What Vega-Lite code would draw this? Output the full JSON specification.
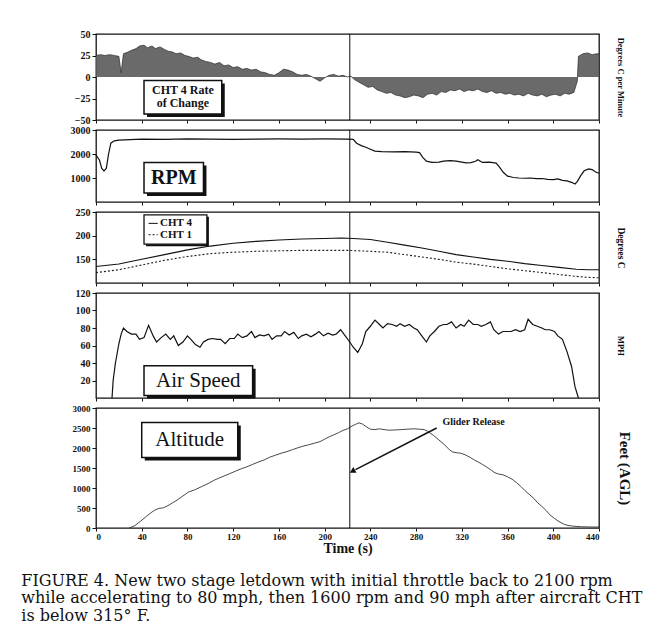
{
  "$schema": "https://vega.github.io/schema/vega-lite/v6.json",
  "background": "white",
  "padding": {"left": 21, "top": 28, "right": 0, "bottom": 0},
  "spacing": 10,
  "bounds": "flush",
  "config": {
    "view": {"stroke": "#111", "strokeWidth": 1.3},
    "font": "Liberation Serif",
    "axis": {"grid": false, "domain": false, "labelFont": "Liberation Serif", "labelFontWeight": "bold", "labelFontSize": 10, "labelColor": "#111", "tickColor": "#111", "tickSize": 4, "titleFont": "Liberation Serif", "titleColor": "#111", "titleFontWeight": "bold"},
    "axisLeft": {"minExtent": 30, "maxExtent": 30, "labelPadding": 2}
  },
  "title": {
    "text": ["FIGURE 4. New two stage letdown with initial throttle back to 2100 rpm", "while accelerating to 80 mph, then 1600 rpm and 90 mph after aircraft CHT", "is below 315° F."],
    "orient": "bottom", "anchor": "start", "frame": "bounds", "dx": -44, "offset": 17,
    "font": "DejaVu Serif", "fontSize": 16, "fontWeight": "normal", "lineHeight": 17.5, "color": "#111"
  },
  "datasets": {
    "rate": [
      {"t":0,"v":25},{"t":4,"v":26},{"t":8,"v":25},{"t":12,"v":26},{"t":16,"v":25},{"t":20,"v":24},{"t":22,"v":5},{"t":24,"v":27},{"t":28,"v":29},{"t":31,"v":31},{"t":35,"v":33},{"t":38,"v":36},{"t":42,"v":37},{"t":45,"v":34},{"t":49,"v":36},{"t":52,"v":33},{"t":56,"v":35},{"t":60,"v":32},{"t":63,"v":30},{"t":67,"v":29},{"t":70,"v":27},{"t":74,"v":28},{"t":78,"v":25},{"t":81,"v":24},{"t":85,"v":22},{"t":89,"v":23},{"t":92,"v":20},{"t":96,"v":18},{"t":100,"v":17},{"t":104,"v":15},{"t":108,"v":17},{"t":112,"v":13},{"t":116,"v":14},{"t":120,"v":11},{"t":124,"v":12},{"t":128,"v":9},{"t":132,"v":10},{"t":136,"v":8},{"t":140,"v":9},{"t":144,"v":6},{"t":148,"v":5},{"t":152,"v":3},{"t":156,"v":2},{"t":160,"v":5},{"t":164,"v":9},{"t":168,"v":8},{"t":172,"v":6},{"t":176,"v":3},{"t":180,"v":2},{"t":184,"v":3},{"t":188,"v":1},{"t":192,"v":-2},{"t":196,"v":-5},{"t":200,"v":-1},{"t":204,"v":2},{"t":208,"v":3},{"t":212,"v":1},{"t":216,"v":2},{"t":220,"v":0},{"t":223,"v":1},{"t":226,"v":-3},{"t":230,"v":-6},{"t":234,"v":-9},{"t":238,"v":-12},{"t":242,"v":-11},{"t":246,"v":-15},{"t":250,"v":-17},{"t":254,"v":-19},{"t":258,"v":-18},{"t":262,"v":-21},{"t":266,"v":-22},{"t":270,"v":-24},{"t":274,"v":-23},{"t":278,"v":-21},{"t":282,"v":-22},{"t":286,"v":-24},{"t":290,"v":-20},{"t":294,"v":-19},{"t":298,"v":-21},{"t":302,"v":-17},{"t":306,"v":-18},{"t":310,"v":-15},{"t":314,"v":-16},{"t":318,"v":-14},{"t":322,"v":-17},{"t":326,"v":-15},{"t":330,"v":-16},{"t":334,"v":-14},{"t":338,"v":-17},{"t":342,"v":-18},{"t":346,"v":-16},{"t":350,"v":-19},{"t":354,"v":-18},{"t":358,"v":-20},{"t":362,"v":-19},{"t":366,"v":-21},{"t":370,"v":-20},{"t":374,"v":-22},{"t":378,"v":-19},{"t":382,"v":-21},{"t":386,"v":-22},{"t":390,"v":-20},{"t":394,"v":-23},{"t":398,"v":-21},{"t":402,"v":-20},{"t":406,"v":-22},{"t":410,"v":-19},{"t":414,"v":-20},{"t":418,"v":-18},{"t":421,"v":-5},{"t":422,"v":24},{"t":426,"v":27},{"t":430,"v":28},{"t":434,"v":26},{"t":438,"v":27},{"t":440,"v":27}
    ],
    "rpm": [
      {"t":0,"v":1950},{"t":3,"v":1750},{"t":5,"v":1400},{"t":7,"v":1300},{"t":9,"v":1400},{"t":11,"v":2000},{"t":13,"v":2450},{"t":16,"v":2550},{"t":20,"v":2580},{"t":30,"v":2600},{"t":40,"v":2620},{"t":60,"v":2610},{"t":80,"v":2630},{"t":100,"v":2620},{"t":120,"v":2610},{"t":140,"v":2620},{"t":160,"v":2630},{"t":180,"v":2620},{"t":200,"v":2630},{"t":220,"v":2620},{"t":225,"v":2610},{"t":228,"v":2450},{"t":232,"v":2350},{"t":236,"v":2280},{"t":240,"v":2200},{"t":244,"v":2120},{"t":250,"v":2100},{"t":260,"v":2090},{"t":270,"v":2100},{"t":280,"v":2080},{"t":283,"v":2060},{"t":286,"v":1850},{"t":289,"v":1700},{"t":294,"v":1650},{"t":300,"v":1660},{"t":304,"v":1700},{"t":310,"v":1720},{"t":315,"v":1700},{"t":320,"v":1660},{"t":324,"v":1630},{"t":328,"v":1640},{"t":332,"v":1700},{"t":334,"v":1760},{"t":338,"v":1650},{"t":344,"v":1660},{"t":350,"v":1620},{"t":353,"v":1450},{"t":356,"v":1250},{"t":360,"v":1080},{"t":365,"v":1020},{"t":370,"v":1000},{"t":375,"v":990},{"t":380,"v":1000},{"t":385,"v":970},{"t":390,"v":980},{"t":395,"v":940},{"t":400,"v":930},{"t":404,"v":960},{"t":408,"v":900},{"t":412,"v":880},{"t":416,"v":820},{"t":419,"v":750},{"t":421,"v":850},{"t":424,"v":1100},{"t":427,"v":1300},{"t":431,"v":1380},{"t":434,"v":1350},{"t":437,"v":1250},{"t":440,"v":1200}
    ],
    "cht4": [
      {"t":0,"v":135},{"t":20,"v":140},{"t":40,"v":150},{"t":60,"v":160},{"t":80,"v":170},{"t":100,"v":178},{"t":120,"v":184},{"t":140,"v":188},{"t":160,"v":191},{"t":180,"v":193},{"t":200,"v":194},{"t":215,"v":195},{"t":225,"v":194},{"t":240,"v":192},{"t":255,"v":186},{"t":270,"v":180},{"t":285,"v":174},{"t":300,"v":167},{"t":315,"v":160},{"t":330,"v":155},{"t":345,"v":150},{"t":360,"v":146},{"t":375,"v":141},{"t":390,"v":137},{"t":405,"v":133},{"t":420,"v":129},{"t":430,"v":128},{"t":440,"v":128}
    ],
    "cht1": [
      {"t":0,"v":122},{"t":20,"v":128},{"t":40,"v":138},{"t":60,"v":148},{"t":80,"v":156},{"t":100,"v":162},{"t":120,"v":165},{"t":140,"v":167},{"t":160,"v":168},{"t":180,"v":169},{"t":200,"v":169},{"t":220,"v":169},{"t":240,"v":167},{"t":255,"v":165},{"t":270,"v":160},{"t":285,"v":155},{"t":300,"v":150},{"t":315,"v":144},{"t":330,"v":140},{"t":345,"v":135},{"t":360,"v":130},{"t":375,"v":126},{"t":390,"v":122},{"t":405,"v":118},{"t":420,"v":114},{"t":430,"v":112},{"t":440,"v":111}
    ],
    "mph": [
      {"t":14,"v":0},{"t":15,"v":20},{"t":17,"v":40},{"t":20,"v":62},{"t":22,"v":73},{"t":24,"v":80},{"t":27,"v":76},{"t":31,"v":73},{"t":35,"v":73},{"t":38,"v":67},{"t":42,"v":69},{"t":46,"v":83},{"t":50,"v":71},{"t":53,"v":64},{"t":57,"v":69},{"t":61,"v":73},{"t":65,"v":67},{"t":68,"v":71},{"t":72,"v":60},{"t":76,"v":64},{"t":80,"v":71},{"t":83,"v":67},{"t":87,"v":61},{"t":91,"v":58},{"t":94,"v":64},{"t":98,"v":67},{"t":102,"v":68},{"t":106,"v":67},{"t":109,"v":67},{"t":113,"v":62},{"t":117,"v":68},{"t":121,"v":68},{"t":124,"v":73},{"t":128,"v":69},{"t":132,"v":71},{"t":136,"v":76},{"t":139,"v":69},{"t":143,"v":72},{"t":147,"v":71},{"t":151,"v":73},{"t":154,"v":67},{"t":158,"v":71},{"t":162,"v":71},{"t":165,"v":76},{"t":169,"v":72},{"t":173,"v":75},{"t":177,"v":68},{"t":180,"v":71},{"t":184,"v":73},{"t":188,"v":70},{"t":192,"v":73},{"t":195,"v":76},{"t":199,"v":71},{"t":203,"v":74},{"t":207,"v":72},{"t":210,"v":73},{"t":214,"v":78},{"t":218,"v":71},{"t":222,"v":64},{"t":225,"v":58},{"t":229,"v":52},{"t":233,"v":62},{"t":236,"v":76},{"t":240,"v":82},{"t":244,"v":89},{"t":248,"v":84},{"t":251,"v":80},{"t":255,"v":85},{"t":259,"v":84},{"t":263,"v":82},{"t":266,"v":85},{"t":270,"v":82},{"t":274,"v":84},{"t":278,"v":80},{"t":281,"v":78},{"t":285,"v":71},{"t":289,"v":64},{"t":292,"v":71},{"t":296,"v":76},{"t":300,"v":82},{"t":304,"v":84},{"t":307,"v":84},{"t":311,"v":87},{"t":315,"v":80},{"t":319,"v":84},{"t":322,"v":82},{"t":326,"v":89},{"t":330,"v":84},{"t":334,"v":84},{"t":337,"v":82},{"t":341,"v":84},{"t":345,"v":87},{"t":348,"v":78},{"t":352,"v":73},{"t":356,"v":76},{"t":360,"v":76},{"t":363,"v":76},{"t":367,"v":78},{"t":371,"v":76},{"t":375,"v":78},{"t":378,"v":90},{"t":382,"v":84},{"t":386,"v":82},{"t":390,"v":80},{"t":393,"v":78},{"t":397,"v":78},{"t":401,"v":76},{"t":404,"v":71},{"t":408,"v":67},{"t":412,"v":53},{"t":416,"v":36},{"t":419,"v":13},{"t":422,"v":0}
    ],
    "alt": [
      {"t":29,"v":0},{"t":34,"v":60},{"t":39,"v":170},{"t":44,"v":290},{"t":48,"v":380},{"t":51,"v":440},{"t":55,"v":490},{"t":59,"v":505},{"t":63,"v":560},{"t":67,"v":630},{"t":70,"v":680},{"t":75,"v":780},{"t":81,"v":900},{"t":86,"v":950},{"t":92,"v":1030},{"t":98,"v":1110},{"t":103,"v":1190},{"t":107,"v":1240},{"t":112,"v":1300},{"t":117,"v":1360},{"t":122,"v":1420},{"t":127,"v":1480},{"t":132,"v":1530},{"t":137,"v":1590},{"t":142,"v":1650},{"t":147,"v":1700},{"t":152,"v":1770},{"t":157,"v":1820},{"t":162,"v":1870},{"t":167,"v":1910},{"t":172,"v":1960},{"t":176,"v":2000},{"t":181,"v":2045},{"t":186,"v":2080},{"t":191,"v":2120},{"t":196,"v":2160},{"t":200,"v":2220},{"t":204,"v":2280},{"t":208,"v":2330},{"t":212,"v":2380},{"t":216,"v":2440},{"t":220,"v":2480},{"t":224,"v":2550},{"t":227,"v":2590},{"t":230,"v":2630},{"t":233,"v":2600},{"t":236,"v":2540},{"t":240,"v":2470},{"t":244,"v":2460},{"t":248,"v":2480},{"t":252,"v":2460},{"t":256,"v":2445},{"t":261,"v":2450},{"t":267,"v":2460},{"t":272,"v":2470},{"t":278,"v":2480},{"t":283,"v":2470},{"t":287,"v":2460},{"t":290,"v":2420},{"t":295,"v":2320},{"t":300,"v":2200},{"t":305,"v":2080},{"t":309,"v":1960},{"t":312,"v":1900},{"t":316,"v":1880},{"t":319,"v":1870},{"t":323,"v":1830},{"t":327,"v":1770},{"t":331,"v":1700},{"t":335,"v":1640},{"t":338,"v":1590},{"t":342,"v":1520},{"t":346,"v":1440},{"t":349,"v":1380},{"t":352,"v":1350},{"t":356,"v":1330},{"t":360,"v":1280},{"t":364,"v":1220},{"t":368,"v":1130},{"t":372,"v":1030},{"t":375,"v":940},{"t":379,"v":840},{"t":383,"v":740},{"t":386,"v":640},{"t":390,"v":540},{"t":394,"v":430},{"t":397,"v":330},{"t":401,"v":240},{"t":405,"v":160},{"t":409,"v":100},{"t":412,"v":70},{"t":416,"v":50},{"t":420,"v":40},{"t":425,"v":30},{"t":430,"v":28},{"t":434,"v":25},{"t":440,"v":25}
    ],
    "release": [{"t":222}]
  },
  "vconcat": [
    {
      "width": 503, "height": 86,
      "layer": [
        {"data": {"name": "rate"}, "mark": {"type": "area", "color": "#5a5a5a", "opacity": 0.9, "line": {"color": "#2a2a2a", "strokeWidth": 0.7}},
         "encoding": {
           "x": {"field": "t", "type": "quantitative", "scale": {"domain": [0, 440], "nice": false}, "axis": {"labels": false, "title": null, "values": [0,40,80,120,160,200,240,280,320,360,400,440], "tickSize": 3}},
           "y": {"field": "v", "type": "quantitative", "scale": {"domain": [-50, 50], "nice": false}, "axis": {"values": [-50,-25,0,25,50], "title": null}}}},
        {"data": {"name": "rate"}, "mark": {"type": "point", "opacity": 0},
         "encoding": {"x": {"field": "t", "type": "quantitative"}, "y": {"field": "v", "type": "quantitative", "axis": {"orient": "right", "labels": false, "ticks": false, "title": "Degrees C per Minute", "titleFont": "Liberation Serif", "titleFontSize": 8.5, "titlePadding": 16}}}},
        {"data": {"name": "release"}, "mark": {"type": "rule", "color": "#111", "strokeWidth": 1}, "encoding": {"x": {"field": "t", "type": "quantitative"}}},
        {"data": {"values": [{"x1": 42, "x2": 110, "y1": -4, "y2": -43}]}, "mark": {"type": "rect", "color": "#111", "xOffset": 3, "yOffset": 3, "x2Offset": 3, "y2Offset": 3},
         "encoding": {"x": {"field": "x1", "type": "quantitative"}, "x2": {"field": "x2"}, "y": {"field": "y1", "type": "quantitative", "axis": null}, "y2": {"field": "y2"}}},
        {"data": {"values": [{"x1": 42, "x2": 110, "y1": -4, "y2": -43}]}, "mark": {"type": "rect", "fill": "white", "stroke": "#111", "strokeWidth": 1.5},
         "encoding": {"x": {"field": "x1", "type": "quantitative"}, "x2": {"field": "x2"}, "y": {"field": "y1", "type": "quantitative", "axis": null}, "y2": {"field": "y2"}}},
        {"data": {"values": [{"x": 76, "y": -15, "label": "CHT 4 Rate\nof Change"}]}, "mark": {"type": "text", "font": "Liberation Serif", "fontWeight": "bold", "fontSize": 12, "lineBreak": "\n", "lineHeight": 13, "color": "#111"},
         "encoding": {"x": {"field": "x", "type": "quantitative"}, "y": {"field": "y", "type": "quantitative", "axis": null}, "text": {"field": "label"}}}
      ],
      "resolve": {"axis": {"y": "independent"}}
    },
    {
      "width": 503, "height": 72,
      "layer": [
        {"data": {"name": "rpm"}, "mark": {"type": "line", "color": "#111", "strokeWidth": 1.2},
         "encoding": {
           "x": {"field": "t", "type": "quantitative", "scale": {"domain": [0, 440], "nice": false}, "axis": {"labels": false, "title": null, "values": [0,40,80,120,160,200,240,280,320,360,400,440], "tickSize": 3}},
           "y": {"field": "v", "type": "quantitative", "scale": {"domain": [0, 3000], "nice": false}, "axis": {"values": [1000,2000,3000], "title": null, "format": "d"}}}},
        {"data": {"name": "release"}, "mark": {"type": "rule", "color": "#111", "strokeWidth": 1}, "encoding": {"x": {"field": "t", "type": "quantitative"}}},
        {"data": {"values": [{"x1": 42, "x2": 94, "y1": 1650, "y2": 380}]}, "mark": {"type": "rect", "color": "#111", "xOffset": 3, "yOffset": 3, "x2Offset": 3, "y2Offset": 3},
         "encoding": {"x": {"field": "x1", "type": "quantitative"}, "x2": {"field": "x2"}, "y": {"field": "y1", "type": "quantitative", "axis": null}, "y2": {"field": "y2"}}},
        {"data": {"values": [{"x1": 42, "x2": 94, "y1": 1650, "y2": 380}]}, "mark": {"type": "rect", "fill": "white", "stroke": "#111", "strokeWidth": 1.5},
         "encoding": {"x": {"field": "x1", "type": "quantitative"}, "x2": {"field": "x2"}, "y": {"field": "y1", "type": "quantitative", "axis": null}, "y2": {"field": "y2"}}},
        {"data": {"values": [{"x": 68, "y": 1000, "label": "RPM"}]}, "mark": {"type": "text", "font": "Liberation Serif", "fontWeight": "bold", "fontSize": 20, "color": "#111"},
         "encoding": {"x": {"field": "x", "type": "quantitative"}, "y": {"field": "y", "type": "quantitative", "axis": null}, "text": {"field": "label"}}}
      ],
      "resolve": {"axis": {"y": "independent"}}
    },
    {
      "width": 503, "height": 71,
      "layer": [
        {"data": {"name": "cht4"}, "mark": {"type": "line", "color": "#111", "strokeWidth": 1.1},
         "encoding": {
           "x": {"field": "t", "type": "quantitative", "scale": {"domain": [0, 440], "nice": false}, "axis": {"labels": false, "title": null, "values": [0,40,80,120,160,200,240,280,320,360,400,440], "tickSize": 3}},
           "y": {"field": "v", "type": "quantitative", "scale": {"domain": [100, 250], "nice": false}, "axis": {"values": [150,200,250], "title": null}}}},
        {"data": {"name": "cht1"}, "mark": {"type": "line", "color": "#222", "strokeWidth": 1.1, "strokeDash": [2, 2]},
         "encoding": {"x": {"field": "t", "type": "quantitative"}, "y": {"field": "v", "type": "quantitative", "axis": {"orient": "right", "labels": false, "ticks": false, "title": "Degrees C", "titleFont": "Liberation Serif", "titleFontSize": 9.5, "titlePadding": 16}}}},
        {"data": {"name": "release"}, "mark": {"type": "rule", "color": "#111", "strokeWidth": 1}, "encoding": {"x": {"field": "t", "type": "quantitative"}}},
        {"data": {"values": [{"x1": 42, "x2": 97, "y1": 244, "y2": 182}]}, "mark": {"type": "rect", "color": "#111", "xOffset": 2, "yOffset": 2, "x2Offset": 2, "y2Offset": 2},
         "encoding": {"x": {"field": "x1", "type": "quantitative"}, "x2": {"field": "x2"}, "y": {"field": "y1", "type": "quantitative", "axis": null}, "y2": {"field": "y2"}}},
        {"data": {"values": [{"x1": 42, "x2": 97, "y1": 244, "y2": 182}]}, "mark": {"type": "rect", "fill": "white", "stroke": "#111", "strokeWidth": 1.3},
         "encoding": {"x": {"field": "x1", "type": "quantitative"}, "x2": {"field": "x2"}, "y": {"field": "y1", "type": "quantitative", "axis": null}, "y2": {"field": "y2"}}},
        {"data": {"values": [{"x1": 46, "x2": 54, "y": 226}]}, "mark": {"type": "rule", "color": "#111", "strokeWidth": 1},
         "encoding": {"x": {"field": "x1", "type": "quantitative"}, "x2": {"field": "x2"}, "y": {"field": "y", "type": "quantitative", "axis": null}}},
        {"data": {"values": [{"x1": 46, "x2": 54, "y": 202}]}, "mark": {"type": "rule", "color": "#111", "strokeWidth": 1, "strokeDash": [2, 2]},
         "encoding": {"x": {"field": "x1", "type": "quantitative"}, "x2": {"field": "x2"}, "y": {"field": "y", "type": "quantitative", "axis": null}}},
        {"data": {"values": [{"x": 56, "y": 226, "label": "CHT 4"}, {"x": 56, "y": 202, "label": "CHT 1"}]}, "mark": {"type": "text", "font": "Liberation Serif", "fontWeight": "bold", "fontSize": 11, "align": "left", "color": "#111"},
         "encoding": {"x": {"field": "x", "type": "quantitative"}, "y": {"field": "y", "type": "quantitative", "axis": null}, "text": {"field": "label"}}}
      ],
      "resolve": {"axis": {"y": "independent"}}
    },
    {
      "width": 503, "height": 105,
      "layer": [
        {"data": {"name": "mph"}, "mark": {"type": "line", "color": "#111", "strokeWidth": 1.2},
         "encoding": {
           "x": {"field": "t", "type": "quantitative", "scale": {"domain": [0, 440], "nice": false}, "axis": {"labels": false, "title": null, "values": [0,40,80,120,160,200,240,280,320,360,400,440], "tickSize": 3}},
           "y": {"field": "v", "type": "quantitative", "scale": {"domain": [0, 120], "nice": false}, "axis": {"values": [20,40,60,80,100,120], "title": null}}}},
        {"data": {"name": "mph"}, "mark": {"type": "point", "opacity": 0},
         "encoding": {"x": {"field": "t", "type": "quantitative"}, "y": {"field": "v", "type": "quantitative", "axis": {"orient": "right", "labels": false, "ticks": false, "title": "MPH", "titleFont": "Liberation Serif", "titleFontSize": 8.5, "titlePadding": 16}}}},
        {"data": {"name": "release"}, "mark": {"type": "rule", "color": "#111", "strokeWidth": 1}, "encoding": {"x": {"field": "t", "type": "quantitative"}}},
        {"data": {"values": [{"x1": 42, "x2": 137, "y1": 37, "y2": 3}]}, "mark": {"type": "rect", "color": "#111", "xOffset": 3, "yOffset": 3, "x2Offset": 3, "y2Offset": 3},
         "encoding": {"x": {"field": "x1", "type": "quantitative"}, "x2": {"field": "x2"}, "y": {"field": "y1", "type": "quantitative", "axis": null}, "y2": {"field": "y2"}}},
        {"data": {"values": [{"x1": 42, "x2": 137, "y1": 37, "y2": 3}]}, "mark": {"type": "rect", "fill": "white", "stroke": "#111", "strokeWidth": 1.5},
         "encoding": {"x": {"field": "x1", "type": "quantitative"}, "x2": {"field": "x2"}, "y": {"field": "y1", "type": "quantitative", "axis": null}, "y2": {"field": "y2"}}},
        {"data": {"values": [{"x": 89.5, "y": 20, "label": "Air Speed"}]}, "mark": {"type": "text", "font": "Liberation Serif", "fontSize": 21, "color": "#111"},
         "encoding": {"x": {"field": "x", "type": "quantitative"}, "y": {"field": "y", "type": "quantitative", "axis": null}, "text": {"field": "label"}}}
      ],
      "resolve": {"axis": {"y": "independent"}}
    },
    {
      "width": 503, "height": 120,
      "layer": [
        {"data": {"name": "alt"}, "mark": {"type": "line", "color": "#333", "strokeWidth": 0.9},
         "encoding": {
           "x": {"field": "t", "type": "quantitative", "scale": {"domain": [0, 440], "nice": false}, "axis": {"values": [0,40,80,120,160,200,240,280,320,360,400,440], "title": "Time (s)", "titleFontSize": 14, "titlePadding": 0, "labelFontSize": 9, "tickSize": 3, "labelPadding": 1}},
           "y": {"field": "v", "type": "quantitative", "scale": {"domain": [0, 3000], "nice": false}, "axis": {"values": [0,500,1000,1500,2000,2500,3000], "title": null, "labelFontSize": 9, "format": "d"}}}},
        {"data": {"name": "alt"}, "mark": {"type": "point", "opacity": 0},
         "encoding": {"x": {"field": "t", "type": "quantitative"}, "y": {"field": "v", "type": "quantitative", "axis": {"orient": "right", "labels": false, "ticks": false, "title": "Feet (AGL)", "titleFont": "Liberation Serif", "titleFontSize": 15, "titlePadding": 17}}}},
        {"data": {"name": "release"}, "mark": {"type": "rule", "color": "#111", "strokeWidth": 1}, "encoding": {"x": {"field": "t", "type": "quantitative"}}},
        {"data": {"values": [{"x1": 40, "x2": 124, "y1": 2640, "y2": 1760}]}, "mark": {"type": "rect", "color": "#111", "xOffset": 3, "yOffset": 3, "x2Offset": 3, "y2Offset": 3},
         "encoding": {"x": {"field": "x1", "type": "quantitative"}, "x2": {"field": "x2"}, "y": {"field": "y1", "type": "quantitative", "axis": null}, "y2": {"field": "y2"}}},
        {"data": {"values": [{"x1": 40, "x2": 124, "y1": 2640, "y2": 1760}]}, "mark": {"type": "rect", "fill": "white", "stroke": "#111", "strokeWidth": 1.5},
         "encoding": {"x": {"field": "x1", "type": "quantitative"}, "x2": {"field": "x2"}, "y": {"field": "y1", "type": "quantitative", "axis": null}, "y2": {"field": "y2"}}},
        {"data": {"values": [{"x": 82, "y": 2200, "label": "Altitude"}]}, "mark": {"type": "text", "font": "Liberation Serif", "fontSize": 21, "color": "#111"},
         "encoding": {"x": {"field": "x", "type": "quantitative"}, "y": {"field": "y", "type": "quantitative", "axis": null}, "text": {"field": "label"}}},
        {"data": {"values": [{"x": 303, "y": 2660, "label": "Glider Release"}]}, "mark": {"type": "text", "font": "Liberation Serif", "fontWeight": "bold", "fontSize": 10, "align": "left", "color": "#111"},
         "encoding": {"x": {"field": "x", "type": "quantitative"}, "y": {"field": "y", "type": "quantitative", "axis": null}, "text": {"field": "label"}}},
        {"data": {"values": [{"x1": 298, "y1": 2500, "x2": 227, "y2": 1460}]}, "mark": {"type": "rule", "color": "#111", "strokeWidth": 1.5},
         "encoding": {"x": {"field": "x1", "type": "quantitative"}, "x2": {"field": "x2"}, "y": {"field": "y1", "type": "quantitative", "axis": null}, "y2": {"field": "y2"}}},
        {"data": {"values": [{"x": 225, "y": 1430}]}, "mark": {"type": "point", "shape": "triangle", "filled": true, "color": "#111", "size": 45, "angle": 241, "opacity": 1},
         "encoding": {"x": {"field": "x", "type": "quantitative"}, "y": {"field": "y", "type": "quantitative", "axis": null}}}
      ],
      "resolve": {"axis": {"y": "independent"}}
    }
  ]
}
